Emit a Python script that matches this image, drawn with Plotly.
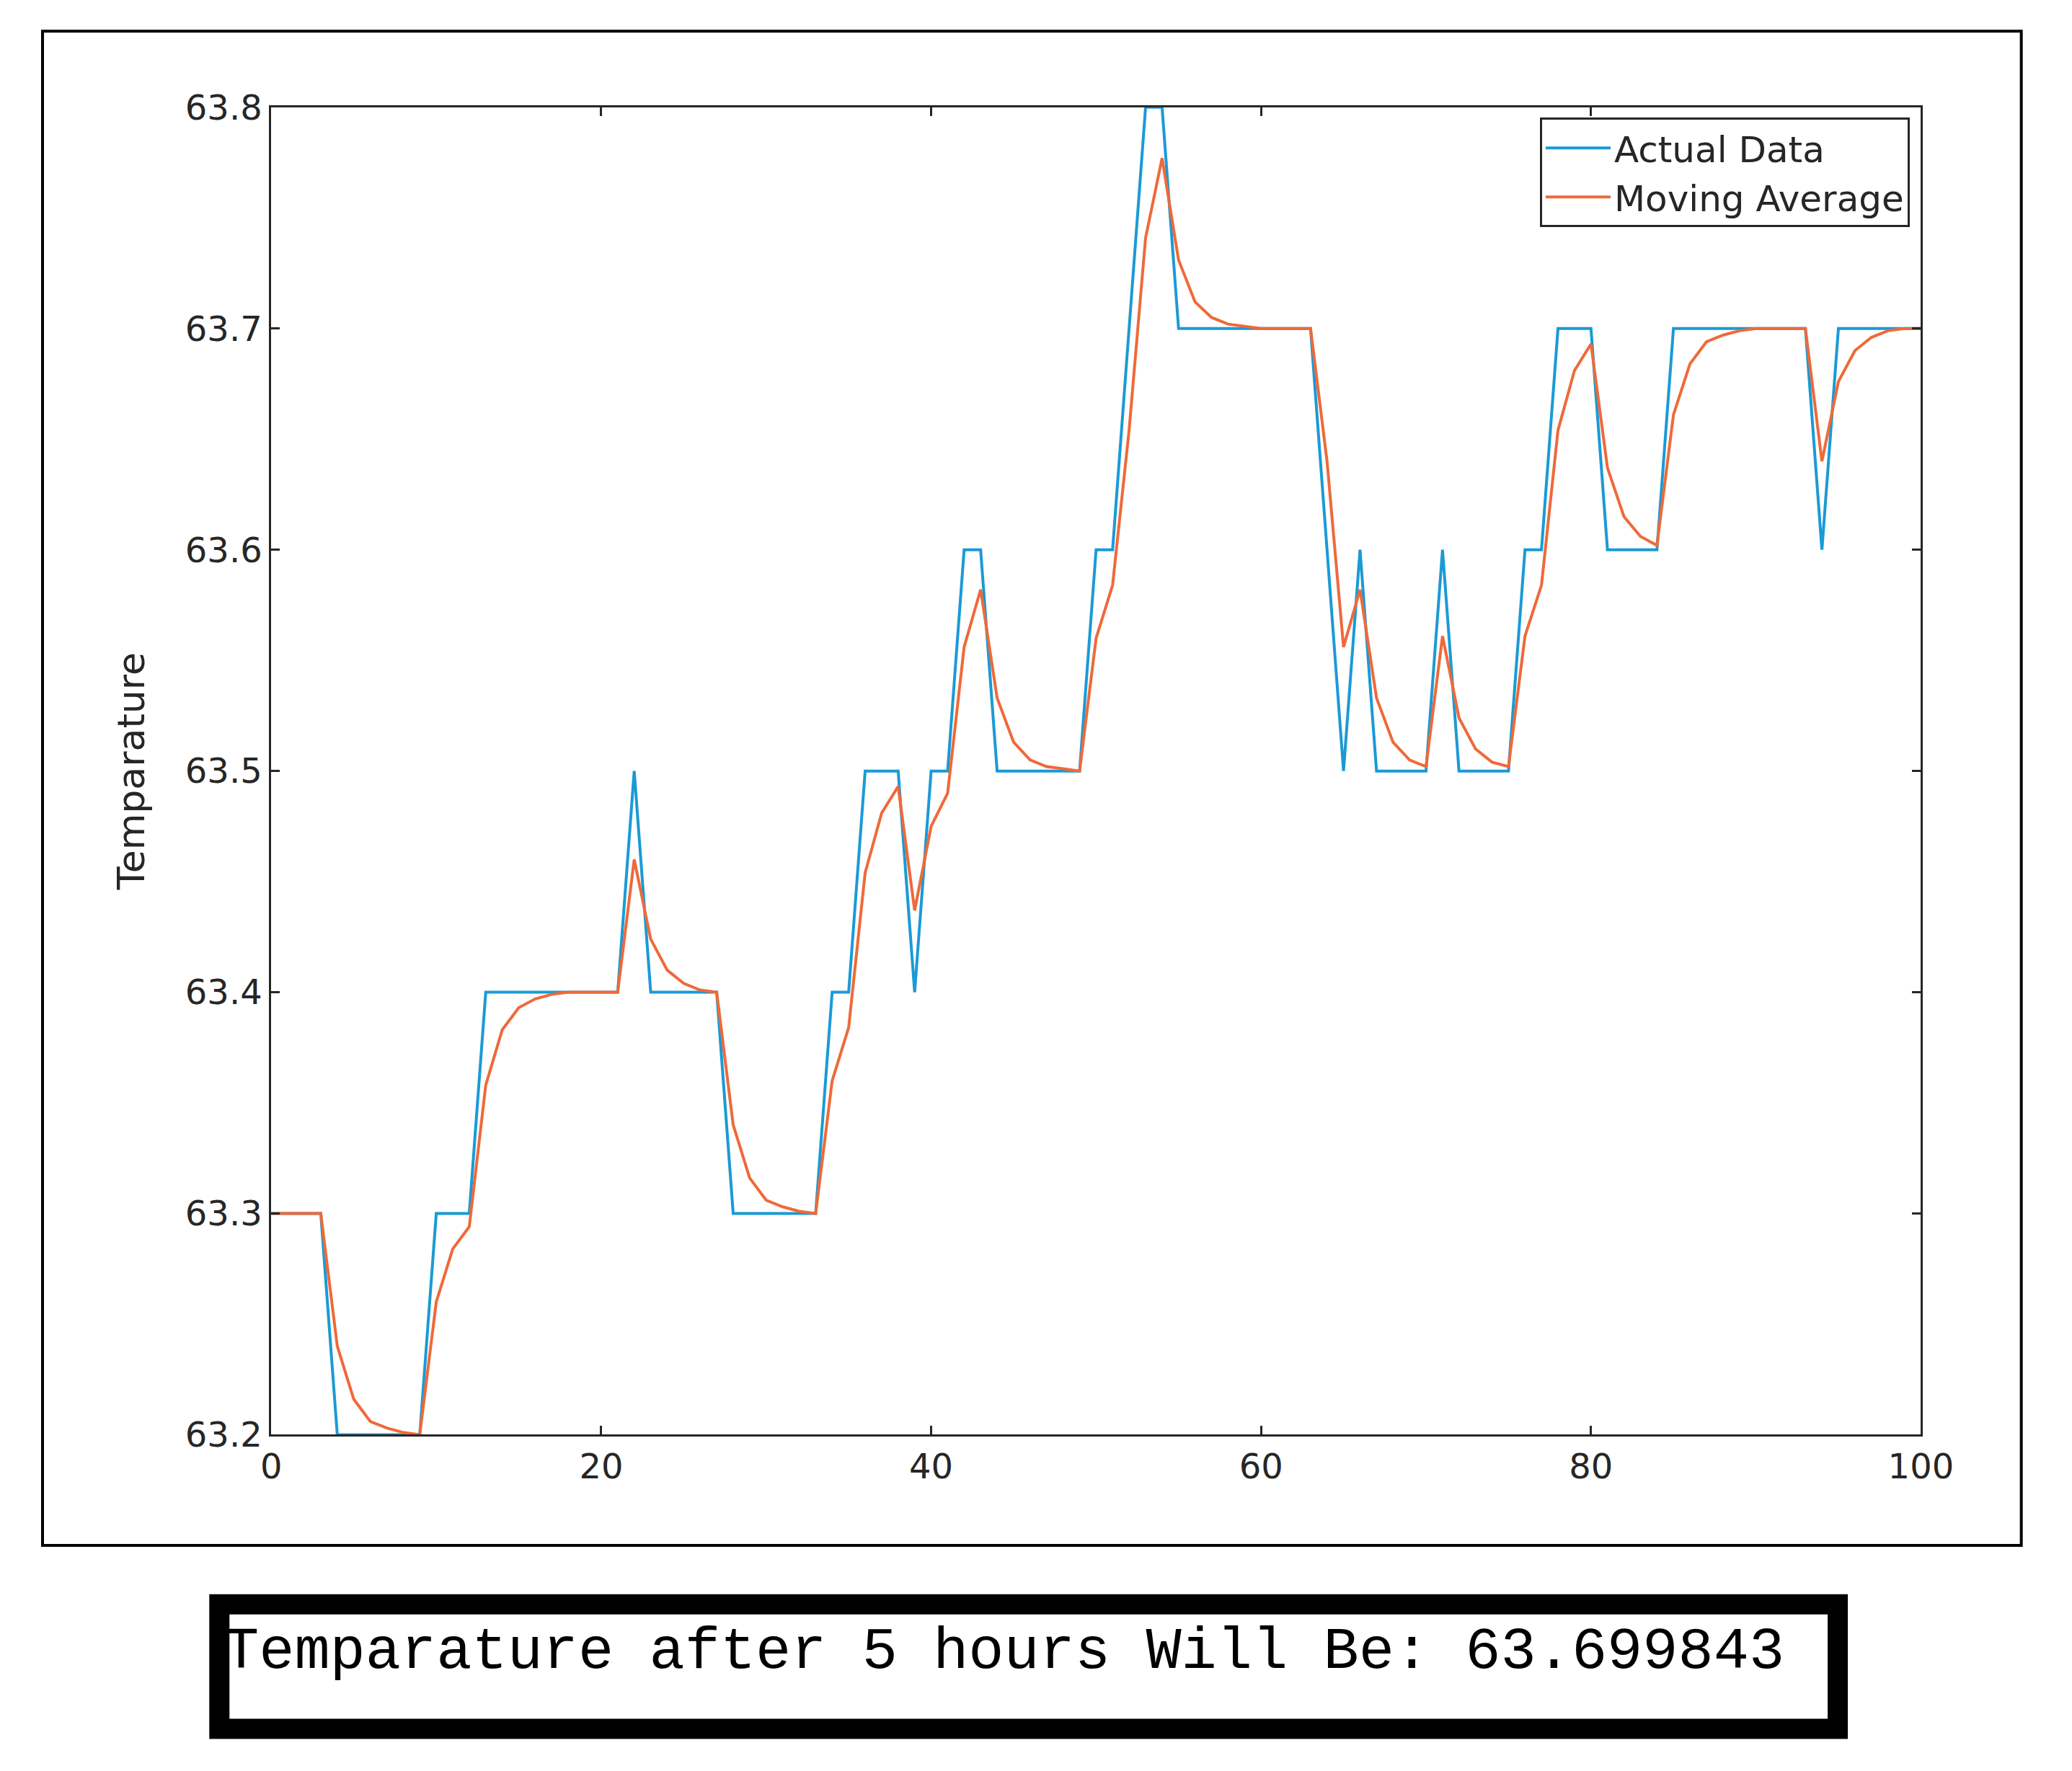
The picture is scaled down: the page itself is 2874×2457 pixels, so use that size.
import plotly.graph_objects as go

# -----------------------------
# Data
# -----------------------------
hours = list(range(0, 101))

actual = [
    63.3, 63.3, 63.3, 63.3, 63.2, 63.2, 63.2, 63.2, 63.2, 63.2,
    63.3, 63.3, 63.3, 63.4, 63.4, 63.4, 63.4, 63.4, 63.4, 63.4,
    63.4, 63.4, 63.5, 63.4, 63.4, 63.4, 63.4, 63.4, 63.3, 63.3,
    63.3, 63.3, 63.3, 63.3, 63.4, 63.4, 63.5, 63.5, 63.5, 63.4,
    63.5, 63.5, 63.6, 63.6, 63.5, 63.5, 63.5, 63.5, 63.5, 63.5,
    63.6, 63.6, 63.7, 63.8, 63.8, 63.7, 63.7, 63.7, 63.7, 63.7,
    63.7, 63.7, 63.7, 63.7, 63.6, 63.5, 63.6, 63.5, 63.5, 63.5,
    63.5, 63.6, 63.5, 63.5, 63.5, 63.5, 63.6, 63.6, 63.7, 63.7,
    63.7, 63.6, 63.6, 63.6, 63.6, 63.7, 63.7, 63.7, 63.7, 63.7,
    63.7, 63.7, 63.7, 63.7, 63.6, 63.7, 63.7, 63.7, 63.7, 63.7,
    63.7,
]

moving_avg = [
    63.3, 63.3, 63.3, 63.3, 63.24, 63.216, 63.206, 63.203, 63.201, 63.2,
    63.26, 63.284, 63.294, 63.358, 63.383, 63.393, 63.397, 63.399, 63.4, 63.4,
    63.4, 63.4, 63.46, 63.424, 63.41, 63.404, 63.401, 63.4, 63.34, 63.316,
    63.306, 63.303, 63.301, 63.3, 63.36, 63.384, 63.454, 63.481, 63.493, 63.437,
    63.475, 63.49, 63.556, 63.582, 63.533, 63.513, 63.505, 63.502, 63.501, 63.5,
    63.56, 63.584, 63.654, 63.741, 63.777, 63.731, 63.712, 63.705, 63.702, 63.701,
    63.7, 63.7, 63.7, 63.7, 63.64, 63.556, 63.582, 63.533, 63.513, 63.505,
    63.502, 63.561, 63.524, 63.51, 63.504, 63.502, 63.561, 63.584, 63.654, 63.681,
    63.693, 63.637, 63.615, 63.606, 63.602, 63.661, 63.684, 63.694, 63.697, 63.699,
    63.7, 63.7, 63.7, 63.7, 63.64, 63.676, 63.69, 63.696, 63.699, 63.7,
    63.7,
]

y_ticks = [63.2, 63.3, 63.4, 63.5, 63.6, 63.7, 63.8]
x_ticks = [0, 20, 40, 60, 80, 100]
result_text = "Temparature after 5 hours Will Be: 63.699843"

fig = go.Figure()
fig.add_trace(go.Scatter(x=hours, y=actual, mode="lines", name="Actual Data",
                         line=dict(color="#1A9AD6", width=4)))
fig.add_trace(go.Scatter(x=hours, y=moving_avg, mode="lines", name="Moving Average",
                         line=dict(color="#EE6A3A", width=4)))

axis_style = dict(showline=True, linecolor="#262626", linewidth=3, mirror="ticks",
                  ticks="inside", ticklen=12, tickwidth=3, tickcolor="#262626",
                  showgrid=False, zeroline=False,
                  tickfont=dict(family="DejaVu Sans", size=48, color="#262626"))

fig.update_xaxes(range=[0, 100], tickvals=x_ticks, domain=[0.1256, 0.939], **axis_style)
fig.update_yaxes(range=[63.2, 63.8], tickvals=y_ticks, tickformat=".1f",
                 domain=[0.186, 0.953],
                 title=dict(text="Temparature", standoff=40,
                            font=dict(family="DejaVu Sans", size=52, color="#262626")),
                 **axis_style)

# outer frame of the figure window and the console result box
fig.add_shape(type="rect", xref="paper", yref="paper", x0=0.0128, x1=0.9885,
              y0=0.122, y1=0.997, line=dict(color="black", width=4))
fig.add_shape(type="rect", xref="paper", yref="paper", x0=0.1, x1=0.898,
              y0=0.016, y1=0.088, line=dict(color="black", width=28))
fig.add_annotation(x=0.487, y=0.04, xref="paper", yref="paper", showarrow=False,
                   text=result_text,
                   font=dict(family="Liberation Mono", size=82, color="black"))

fig.update_layout(
    width=2874, height=2457,
    margin=dict(l=0, r=0, t=0, b=0),
    paper_bgcolor="white", plot_bgcolor="white",
    legend=dict(x=0.9335, y=0.947, xanchor="right", yanchor="top",
                bgcolor="white", bordercolor="#262626", borderwidth=3,
                itemwidth=90, tracegroupgap=10,
                font=dict(family="DejaVu Sans", size=50, color="#262626")),
)

fig.write_html("out.html")
